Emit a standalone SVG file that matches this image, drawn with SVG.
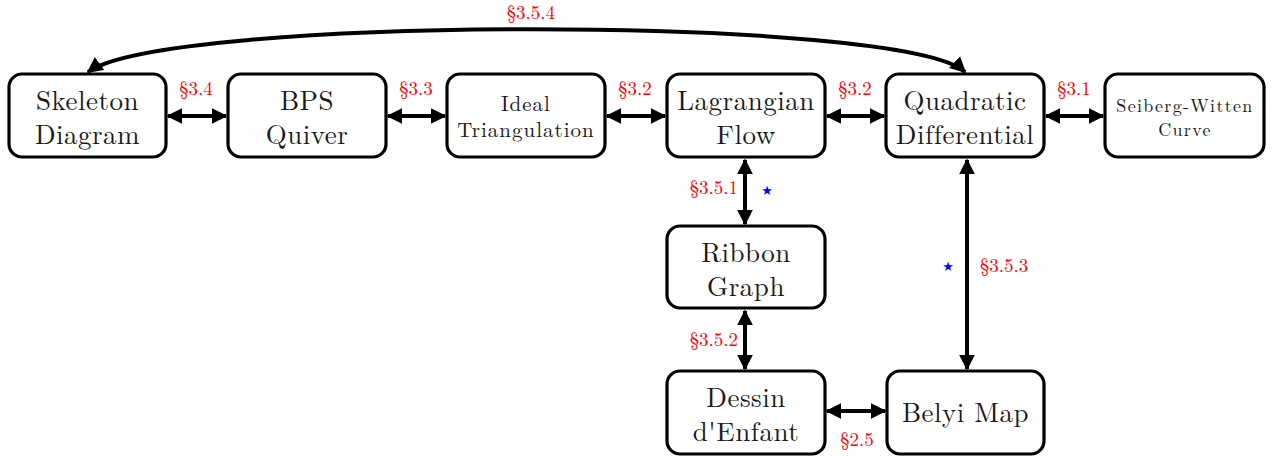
<svg xmlns="http://www.w3.org/2000/svg" width="1279" height="457" viewBox="0 0 1279 457">
<style>
.box{fill:#fff;stroke:#000;stroke-width:3.2}
.t{font-family:"Latin Modern Roman","CMU Serif","Liberation Serif",serif;fill:#1a1a1a;text-anchor:middle}
.big{font-size:27px;letter-spacing:0.5px}
.mid{font-size:21px;letter-spacing:1px}
.sm{font-size:18px;letter-spacing:1.3px}
.lab{font-family:"Latin Modern Roman","CMU Serif","Liberation Serif",serif;font-size:19px;fill:#ff0000}
.star{font-family:"DejaVu Sans",sans-serif;font-size:13px;fill:#0000ff;text-anchor:middle}
.c{fill:none;stroke:#000;stroke-width:4}
</style>
<defs>
<marker id="ah" viewBox="0 0 10 10" refX="9" refY="5" markerWidth="4" markerHeight="4.2" markerUnits="strokeWidth" orient="auto-start-reverse">
<path d="M0,0 L10,5 L0,10 z" fill="#000"/>
</marker>
</defs>
<g id="connectors">
<path class="c" d="M168 116 H226" marker-start="url(#ah)" marker-end="url(#ah)"/>
<path class="c" d="M388 116 H445" marker-start="url(#ah)" marker-end="url(#ah)"/>
<path class="c" d="M607 116 H665" marker-start="url(#ah)" marker-end="url(#ah)"/>
<path class="c" d="M827 116 H884" marker-start="url(#ah)" marker-end="url(#ah)"/>
<path class="c" d="M1046 116 H1103" marker-start="url(#ah)" marker-end="url(#ah)"/>
<path class="c" d="M745 160 V224" marker-start="url(#ah)" marker-end="url(#ah)"/>
<path class="c" d="M745 311 V369" marker-start="url(#ah)" marker-end="url(#ah)"/>
<path class="c" d="M967 160 V369" marker-start="url(#ah)" marker-end="url(#ah)"/>
<path class="c" d="M827 411 H885" marker-start="url(#ah)" marker-end="url(#ah)"/>
<path class="c" d="M965 72 C905 15, 165 15, 88 72" marker-start="url(#ah)" marker-end="url(#ah)"/>
<text class="lab" x="531" y="19" text-anchor="middle">§3.5.4</text>
<text class="lab" x="196" y="95" text-anchor="middle">§3.4</text>
<text class="lab" x="416" y="95" text-anchor="middle">§3.3</text>
<text class="lab" x="635" y="95" text-anchor="middle">§3.2</text>
<text class="lab" x="855" y="95" text-anchor="middle">§3.2</text>
<text class="lab" x="1074" y="95" text-anchor="middle">§3.1</text>
<text class="lab" x="738" y="194" text-anchor="end">§3.5.1</text>
<text class="star" x="767" y="195">★</text>
<text class="lab" x="738" y="346" text-anchor="end">§3.5.2</text>
<text class="lab" x="980" y="272" text-anchor="start">§3.5.3</text>
<text class="star" x="948" y="271">★</text>
<text class="lab" x="857" y="446" text-anchor="middle">§2.5</text>
</g>
<g id="skeleton"><rect class="box" x="9" y="74" width="157" height="83" rx="13"/><text class="t big"><tspan x="87.5" y="110">Skeleton</tspan><tspan x="87.5" y="144">Diagram</tspan></text></g>
<g id="bps"><rect class="box" x="228" y="74" width="158" height="83" rx="13"/><text class="t big"><tspan x="307" y="110">BPS</tspan><tspan x="307" y="144">Quiver</tspan></text></g>
<g id="ideal"><rect class="box" x="447" y="74" width="158" height="83" rx="13"/><text class="t mid"><tspan x="526" y="111">Ideal</tspan><tspan x="526" y="137">Triangulation</tspan></text></g>
<g id="lagrangian"><rect class="box" x="667" y="74" width="158" height="83" rx="13"/><text class="t big"><tspan x="746" y="110">Lagrangian</tspan><tspan x="746" y="144">Flow</tspan></text></g>
<g id="quadratic"><rect class="box" x="886" y="74" width="158" height="83" rx="13"/><text class="t big"><tspan x="965" y="110">Quadratic</tspan><tspan x="965" y="144">Differential</tspan></text></g>
<g id="seiberg"><rect class="box" x="1105" y="74" width="159" height="83" rx="13"/><text class="t sm"><tspan x="1185" y="112">Seiberg-Witten</tspan><tspan x="1185" y="136">Curve</tspan></text></g>
<g id="ribbon"><rect class="box" x="667" y="226" width="158" height="82" rx="13"/><text class="t big"><tspan x="746" y="262">Ribbon</tspan><tspan x="746" y="296">Graph</tspan></text></g>
<g id="dessin"><rect class="box" x="667" y="371" width="158" height="83" rx="13"/><text class="t big"><tspan x="746" y="407">Dessin</tspan><tspan x="746" y="441">d'Enfant</tspan></text></g>
<g id="belyi"><rect class="box" x="887" y="371" width="157" height="83" rx="13"/><text class="t big" x="965.5" y="422">Belyi Map</text></g>
</svg>
